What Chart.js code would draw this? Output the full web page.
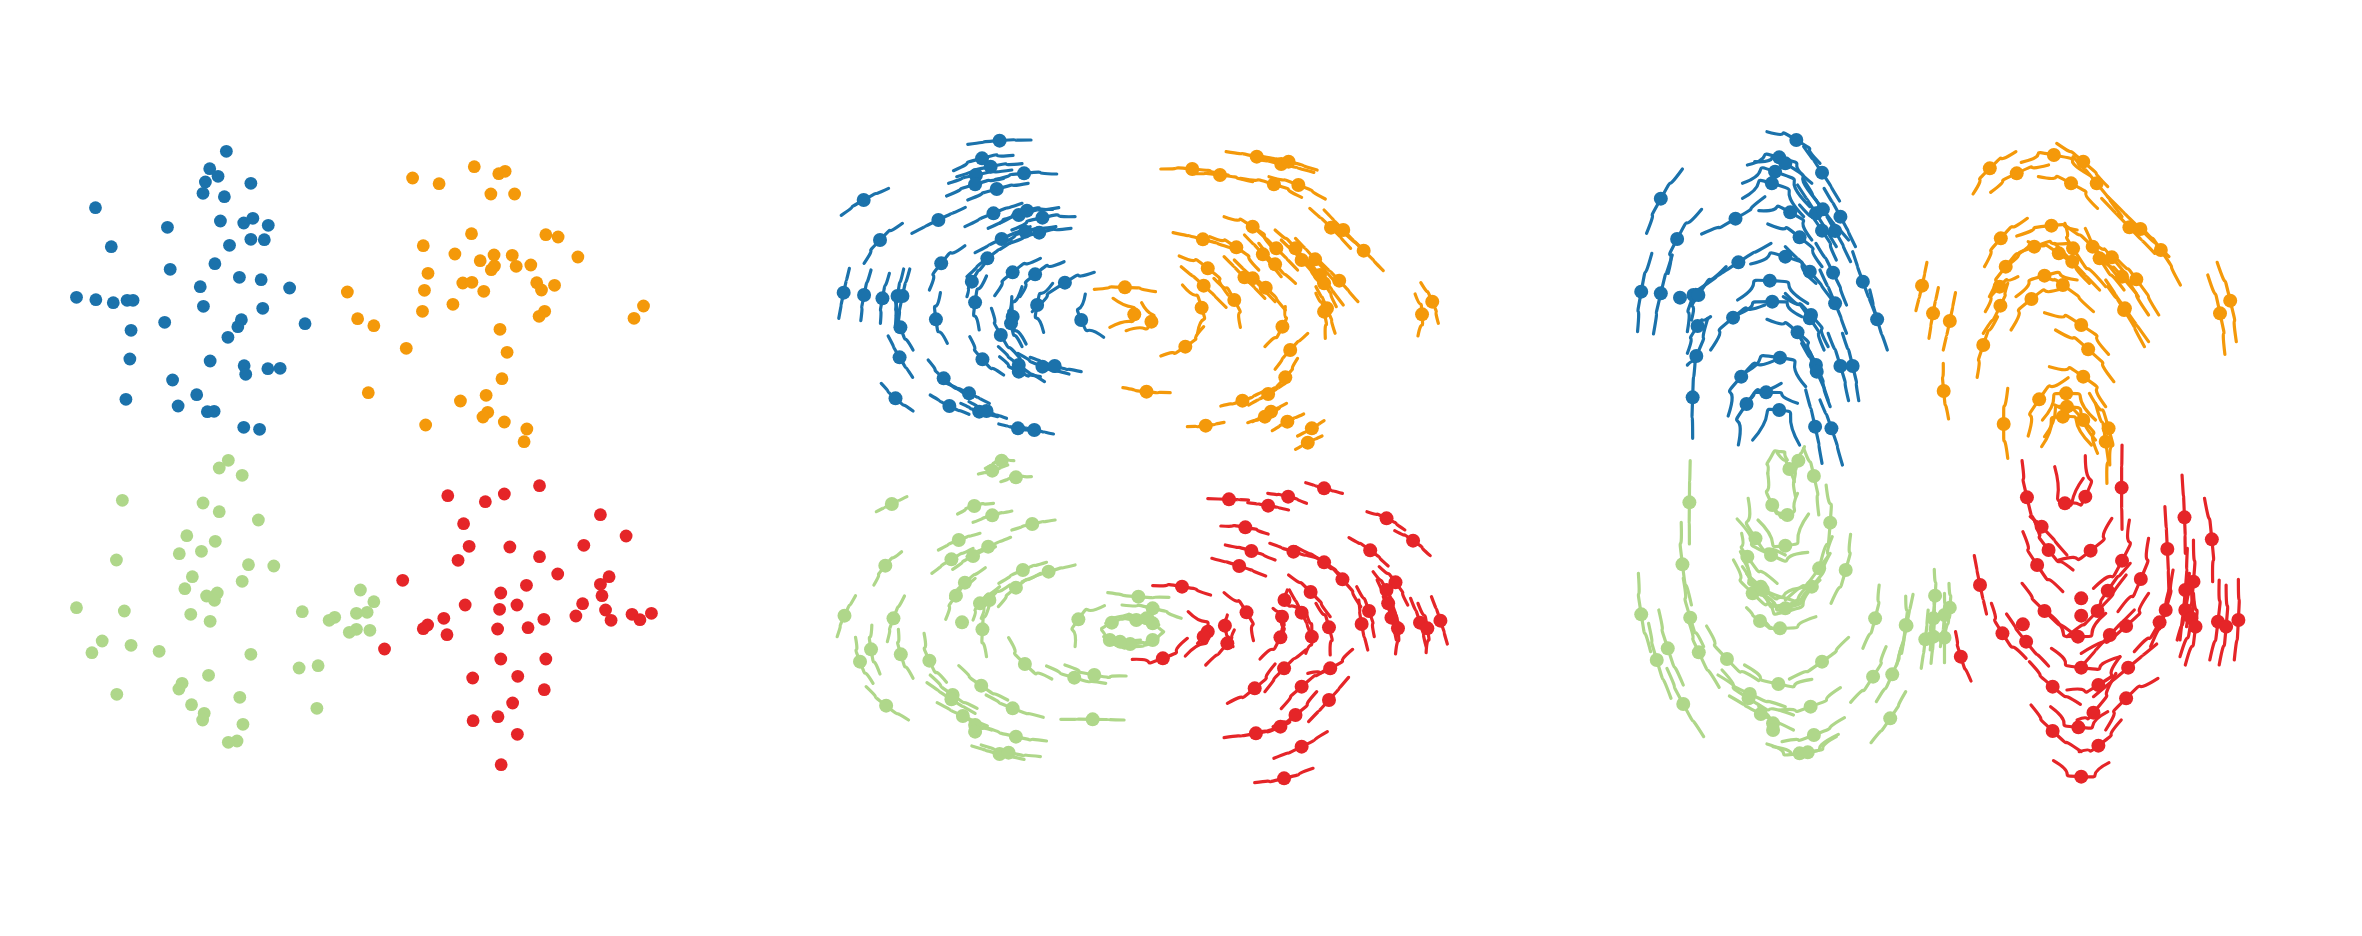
<!DOCTYPE html>
<html><head><meta charset="utf-8">
<script src="https://cdn.jsdelivr.net/npm/chart.js@4"></script>
<style>html,body{margin:0;padding:0;background:#fff;width:2362px;height:936px;overflow:hidden}canvas{position:absolute;top:90px}</style>
</head><body>
<canvas id="a" width="620" height="720" style="left:50px"></canvas>
<canvas id="b" width="640" height="720" style="left:820px"></canvas>
<canvas id="c" width="640" height="720" style="left:1620px"></canvas>
<script>
const colors = {blue:'#1b72ab', orange:'#f4990a', green:'#afd78a', red:'#e52528'};

// Panel 1: positions [x, y]
const p1Blue = [[446,64],[404,116],[425,139],[393,156],[387,190],[441,200],[508,160],[115,233],[297,292],[431,273],[490,279],[513,265],[552,286],[155,350],[454,346],[508,328],[542,329],[304,418],[417,401],[479,442],[534,449],[380,470],[606,474],[67,502],[116,509],[160,518],[195,511],[210,511],[388,529],[538,535],[484,569],[475,590],[290,577],[645,581],[205,601],[450,622],[202,687],[405,693],[491,707],[495,733],[551,716],[582,715],[310,750],[371,794],[192,808],[324,828],[398,845],[415,844],[490,892],[530,898]];
const p1Orange = [[917,144],[984,161],[1073,110],[1135,131],[1151,124],[1115,192],[1175,192],[1066,311],[1254,314],[1285,321],[944,347],[1024,372],[1088,392],[1123,375],[1169,376],[1335,381],[1124,408],[1116,419],[1179,409],[1216,405],[956,430],[1044,459],[1067,457],[1231,458],[1276,466],[1243,480],[947,481],[1097,484],[752,486],[1019,523],[942,544],[1251,544],[1237,559],[1501,528],[1477,565],[778,566],[819,587],[1138,598],[901,655],[1156,667],[1143,746],[805,788],[1103,796],[1038,813],[1107,847],[1095,861],[1149,876],[950,885],[1206,897],[1199,935]];
const p1Green = [[451,61],[428,84],[486,106],[183,181],[387,189],[428,215],[527,240],[346,287],[418,304],[383,334],[327,341],[168,360],[502,374],[566,378],[360,410],[486,424],[341,446],[785,450],[423,459],[396,468],[416,481],[819,485],[67,503],[188,513],[638,515],[356,523],[775,520],[802,517],[405,544],[720,532],[706,541],[775,568],[757,577],[809,571],[132,603],[205,616],[106,638],[276,634],[508,643],[630,684],[678,677],[401,706],[334,730],[326,747],[169,763],[480,772],[358,794],[390,820],[386,840],[675,805],[488,853],[473,903],[451,907]];
const p1Red = [[1238,137],[1149,162],[1006,167],[1101,185],[1392,224],[1046,251],[1457,288],[1350,316],[1060,319],[1163,321],[1238,350],[1032,361],[1284,402],[1414,410],[892,421],[1392,433],[1205,436],[1140,459],[1396,467],[1050,495],[1181,495],[1347,491],[1137,508],[1405,510],[1330,528],[1472,523],[1521,520],[1492,539],[1419,541],[996,535],[955,555],[944,566],[1249,538],[1132,567],[1209,563],[1004,584],[846,627],[1140,657],[1254,657],[1069,714],[1183,709],[1250,749],[1170,789],[1133,830],[1070,842],[1182,883],[1141,974]];

// Panel 2: trails [startX, startY, pointX, pointY, endX, endY]
const p2Blue = [[362,73,440,62,517,60],[327,152,397,115,473,106],[335,170,418,140,495,131],[315,190,382,165,470,150],[310,228,380,193,450,175],[362,240,433,207,510,190],[430,178,500,160,580,162],[52,286,107,240,168,205],[225,340,290,300,356,262],[355,320,425,280,495,250],[412,325,487,285,585,263],[440,310,507,272,570,268],[470,330,545,293,625,290],[108,430,147,360,202,310],[380,398,445,357,515,320],[455,365,503,335,578,320],[465,370,537,338,615,325],[268,510,297,430,355,377],[360,470,410,415,470,365],[428,527,472,457,540,415],[490,530,527,463,598,425],[360,530,372,485,410,420],[520,575,600,488,672,457],[46,595,58,518,72,445],[100,602,108,525,125,450],[148,610,153,535,170,460],[185,615,190,528,205,447],[190,620,202,528,220,447],[390,630,380,547,408,468],[548,637,532,555,570,490],[312,670,284,598,295,518],[228,690,197,622,185,545],[505,672,472,590,495,500],[495,680,468,610,470,530],[490,715,443,645,420,565],[695,652,640,600,650,522],[227,772,195,712,167,648],[450,765,398,718,367,650],[365,830,303,775,265,720],[550,785,487,735,437,680],[540,770,487,755,440,710],[610,762,545,740,485,700],[640,755,575,738,515,712],[415,850,365,820,310,790],[228,873,185,835,150,790],[365,883,317,858,270,825],[435,890,390,875,345,850],[457,895,408,873,365,845],[535,935,485,925,438,912],[572,942,525,930,478,917]];
const p2Orange = [[995,95,1070,110,1145,135],[1060,115,1130,132,1210,157],[1085,110,1148,125,1218,150],[835,147,912,147,1000,165],[905,160,980,165,1060,185],[1030,175,1112,193,1180,232],[1100,170,1172,195,1238,237],[990,290,1060,320,1110,385],[1200,265,1252,323,1300,385],[1235,270,1282,330,1335,395],[1290,345,1332,392,1380,452],[865,338,938,358,1010,385],[955,350,1020,382,1075,450],[1040,345,1085,403,1130,470],[1070,330,1118,385,1170,450],[1115,330,1165,385,1210,460],[1075,370,1115,433,1165,490],[1130,360,1180,420,1225,490],[1165,355,1213,418,1265,490],[880,408,950,445,1000,525],[990,410,1040,472,1090,535],[1015,420,1060,475,1115,545],[1185,410,1225,465,1282,555],[1225,425,1272,482,1318,545],[1195,430,1235,490,1265,560],[885,440,940,497,995,562],[1040,455,1092,503,1140,570],[965,475,1015,540,1030,622],[888,495,935,563,925,640],[1215,500,1242,565,1262,640],[1215,520,1235,575,1238,655],[1472,488,1500,545,1515,610],[1458,522,1475,583,1465,648],[718,535,770,583,710,622],[788,548,812,605,750,632],[1140,560,1133,620,1090,680],[940,620,895,680,835,708],[1195,640,1152,690,1115,748],[1170,715,1140,772,1085,830],[742,803,800,815,858,818],[1140,790,1098,822,1050,855],[1085,815,1035,842,982,858],[1143,850,1105,875,1060,905],[1125,865,1090,890,1048,908],[1185,882,1145,905,1108,932],[990,907,945,917,900,920],[1235,902,1205,925,1170,948],[1230,948,1195,968,1165,988],[822,515,747,502,672,508]];
const p2Green = [[405,85,445,62,475,62],[388,102,422,92,460,75],[443,125,480,112,518,110],[138,215,176,192,213,170],[337,222,378,198,425,190],[375,247,422,226,470,213],[470,270,520,252,576,240],[290,330,340,300,392,280],[360,350,412,320,467,292],[325,388,375,348,430,320],[274,400,322,358,375,325],[132,435,160,377,200,335],[438,430,497,390,555,367],[495,425,560,395,625,375],[320,475,355,428,405,383],[437,500,480,443,540,400],[308,538,333,467,380,415],[375,540,392,490,440,440],[395,535,415,480,465,435],[705,458,780,470,855,472],[740,495,815,505,885,535],[625,620,633,538,697,497],[42,590,60,527,87,467],[165,605,180,535,207,468],[348,547,348,547,348,547],[408,650,398,568,415,495],[147,702,125,628,127,555],[228,715,198,643,192,568],[130,730,98,665,87,592],[310,727,268,662,255,580],[568,717,502,672,462,593],[700,730,623,713,555,678],[750,708,672,705,600,675],[460,780,395,737,340,677],[385,805,325,765,270,705],[380,820,322,778,262,728],[217,840,162,797,113,740],[547,832,472,805,407,765],[410,858,350,828,287,788],[745,840,668,838,590,838],[420,870,380,855,362,835],[385,885,380,875,372,860],[555,903,480,890,400,860],[500,958,440,942,372,918],[540,950,462,938,395,915],[690,565,715,548,760,530],[745,535,775,540,815,530],[790,530,815,550,842,575],[840,578,815,600,770,610],[790,608,760,612,720,610],[730,615,710,600,690,570],[760,525,800,535,830,555],[700,590,735,605,785,600],[695,590,725,615,770,620,815,610],[700,550,735,530,780,530,825,550]];
const p2Red = [[1190,128,1235,145,1280,160],[1097,160,1147,170,1192,190],[950,176,1002,178,1050,180],[1048,188,1098,197,1148,210],[1340,215,1388,235,1433,270],[982,258,1042,262,1098,282],[1408,272,1453,302,1495,347],[1296,293,1348,331,1392,378],[993,315,1057,333,1115,360],[1102,310,1160,335,1220,355],[1165,320,1235,367,1290,420],[960,355,1027,378,1092,408],[1225,360,1280,418,1325,500],[1370,380,1410,427,1440,495],[815,437,887,440,957,465],[1355,395,1388,450,1410,520],[1148,405,1202,456,1250,530],[1145,450,1138,480,1180,510],[1365,420,1392,490,1420,555],[990,458,1045,517,1062,602],[1150,450,1180,518,1205,590],[1315,440,1345,513,1358,590],[1110,505,1132,530,1130,590],[1380,470,1400,533,1412,600],[1320,480,1327,552,1342,630],[1447,475,1470,548,1485,620],[1498,470,1520,542,1537,612],[1465,490,1488,565,1485,638],[1400,500,1416,565,1410,642],[998,525,992,557,1012,620],[902,515,950,575,895,648],[955,560,940,590,925,610],[1215,490,1247,562,1250,645],[1130,530,1128,592,1078,657],[1190,510,1205,590,1190,640],[1015,570,998,610,945,675],[900,595,840,655,765,658],[1190,630,1137,685,1090,755],[1305,628,1250,685,1195,700],[1115,672,1065,745,998,790],[1250,680,1180,740,1130,806],[1295,712,1247,780,1197,845],[1217,755,1165,825,1110,860],[1170,820,1128,860,1060,880],[1120,865,1068,880,990,893],[1243,875,1180,920,1112,955],[1208,985,1137,1015,1065,1028]];

// Panel 3: trails [startX, startY, pointX, pointY, endX, endY]
const p3Blue = [[360,35,432,60,490,130],[450,80,495,158,538,243],[312,135,390,112,470,190],[65,340,100,236,153,147],[330,125,405,130,480,240],[300,190,380,155,465,260],[300,235,372,190,450,290],[200,342,283,296,355,230],[340,272,417,277,470,360],[435,195,480,280,530,380],[450,180,497,268,560,360],[500,205,540,290,577,380],[440,255,495,332,530,420],[480,240,527,333,565,425],[118,460,140,357,200,268],[362,312,440,352,495,440],[320,432,405,410,480,490],[185,515,290,427,370,370],[405,380,465,455,520,540],[480,370,522,458,555,555],[570,395,595,485,625,580],[288,540,367,482,460,550],[43,635,52,515,78,400],[82,642,100,520,128,405],[147,533,147,533,147,533],[165,635,180,525,205,500],[175,600,192,525,260,440],[490,450,527,550,555,640],[275,590,373,545,445,590],[222,690,277,593,355,555],[612,510,630,598,655,690],[405,520,465,595,500,690],[400,530,468,585,510,680],[165,700,190,618,222,590],[360,598,435,637,475,720],[165,735,187,708,215,595],[285,770,392,713,455,800],[440,650,480,735,510,840],[445,670,482,755,515,860],[510,640,540,738,560,842],[545,640,570,738,585,842],[265,888,297,770,390,715],[300,850,358,817,435,850],[290,975,310,852,395,790],[325,960,390,870,440,975],[178,955,178,832,185,710],[455,810,478,920,495,1030],[490,840,518,925,545,1035]];
const p3Orange = [[865,222,906,145,970,95],[908,217,972,160,1050,135],[983,127,1063,105,1150,165],[1070,70,1135,125,1195,200],[1025,170,1105,190,1170,265],[1110,110,1168,190,1230,290],[1180,235,1248,322,1310,400],[1195,230,1275,327,1345,410],[1280,325,1325,390,1373,495],[972,348,1057,317,1120,330],[893,440,933,355,998,295],[945,440,1015,380,1100,370],[1090,310,1110,385,1190,500],[1000,365,1075,400,1150,490],[1090,315,1158,380,1220,470],[1065,370,1108,425,1175,510],[1140,325,1175,415,1235,510],[1160,370,1205,412,1270,530],[1220,420,1265,478,1320,585],[905,530,945,440,1010,370],[1180,420,1230,470,1295,585],[970,530,1040,467,1120,480],[1040,470,1085,495,1160,575],[895,575,930,500,975,470],[958,630,1008,537,1085,505],[890,640,932,557,950,490],[1190,480,1237,565,1295,665],[1195,500,1235,570,1285,680],[725,572,740,497,752,427],[757,655,767,580,780,503],[792,690,808,603,822,518],[1463,427,1495,542,1510,665],[1440,465,1470,580,1482,703],[875,772,890,675,925,590],[1040,578,1130,615,1197,703],[1067,630,1147,688,1210,785],[1052,740,1135,770,1190,860],[792,730,793,813,805,897],[1000,948,1027,838,1098,773],[1035,900,1093,820,1165,900],[1033,980,1085,890,1155,975],[1065,855,1135,900,1170,1000],[1150,820,1197,925,1200,1035],[1165,850,1190,965,1193,1090],[950,805,940,912,950,1015],[1040,950,1095,860,1165,960]];
const p3Green = [[415,235,373,195,362,100],[365,200,410,225,435,160],[385,38,415,87,430,170],[452,20,437,62,425,130],[362,100,368,55,395,35,410,60],[450,25,475,108,487,225],[170,312,170,187,172,62],[505,135,515,248,490,375],[338,240,405,317,462,222],[314,175,332,295,405,345],[287,237,370,345,460,337],[298,280,312,350,385,430],[150,247,153,373,175,495],[517,490,553,390,565,283],[405,480,488,385,520,290],[278,360,325,460,405,510],[295,335,345,440,440,490],[300,355,350,450,470,440],[400,510,470,440,515,340],[360,470,405,505,480,430],[310,503,343,543,390,575],[340,535,392,565,480,530],[45,400,52,523,75,635],[155,415,172,533,205,620],[595,625,625,535,635,435],[690,640,702,557,718,463],[678,675,700,555,700,468],[760,570,772,467,770,388],[793,600,808,503,806,430],[760,630,768,535,770,455],[785,620,795,525,795,460],[738,685,748,598,755,510],[762,670,768,590,770,510],[795,668,795,593,795,510],[155,735,117,625,95,510],[243,742,193,637,170,550],[125,775,90,660,70,550],[340,722,262,657,212,558],[415,717,495,665,560,592],[305,675,388,732,470,718],[565,787,620,710,652,620],[628,785,667,703,695,600],[240,705,318,762,405,800],[250,690,315,775,425,825],[205,890,155,792,115,685],[390,810,467,800,540,743],[268,768,345,822,425,870],[340,800,375,850,380,880],[375,870,375,870,375,870],[615,908,662,835,700,755],[397,905,475,885,550,833],[360,912,440,940,535,883],[375,920,460,937,530,890],[300,380,340,450,400,495,470,430],[310,400,350,465,405,515,490,420]];
const p3Red = [[1230,268,1229,143,1230,15],[1085,195,1140,170,1140,47],[1065,80,1090,190,1135,115],[1028,285,997,172,985,62],[1385,340,1383,232,1377,105],[1005,230,1033,260,1095,345],[1452,425,1450,298,1432,175],[1345,455,1341,327,1335,200],[1205,235,1153,332,1075,360],[1015,240,1050,330,1110,390],[1160,445,1230,362,1248,240],[987,275,1022,375,1085,455],[868,347,882,435,898,522],[1388,560,1405,425,1405,300],[1372,600,1385,450,1390,325],[1220,515,1276,417,1295,295],[1165,520,1195,452,1250,370],[1130,475,1130,475,1130,475],[1095,590,1170,513,1240,405],[1130,527,1130,527,1130,527],[985,430,1040,513,1120,590],[1300,620,1337,510,1355,390],[1130,640,1240,558,1295,460],[1260,635,1322,547,1345,450],[1365,600,1385,510,1395,400],[1372,650,1400,535,1400,430],[1385,675,1410,560,1405,460],[1445,660,1465,545,1468,420],[1505,660,1515,540,1515,418],[1468,675,1485,560,1485,435],[1050,520,1122,590,1190,520],[1130,680,1200,585,1260,510],[987,553,987,553,987,553],[910,490,937,580,995,655],[947,522,995,605,1050,678],[822,575,835,650,860,723],[1057,625,1130,683,1225,650],[1160,770,1245,683,1315,612],[1003,665,1060,740,1128,793],[1095,750,1172,735,1225,650],[1120,840,1160,818,1215,700],[1190,870,1240,775,1318,715],[1055,800,1123,862,1195,815],[1007,795,1060,873,1130,935],[1125,935,1172,917,1228,840],[1062,962,1130,1010,1198,968]];

const TOP = 90, BOTTOM = 810, LOWER_TOP = 440;
function pts(arr){ const o=[]; for(let i=0;i<arr.length;i+=2) o.push({x:arr[i],y:arr[i+1]}); return o; }

function panel(id, leftW, upperTop, groups){
  const ds = [];
  groups.forEach(g=>{
    const yAxisID = g.lower ? 'y2' : 'y';
    const dots = g.dots ? g.dots.map(d=>({x:d[0],y:d[1]})) : g.trails.filter(t=>t.length===6).map(t=>({x:t[2],y:t[3]}));
    ds.push({data:dots,yAxisID,showLine:false,pointRadius:g.radius,pointHoverRadius:g.radius,
      pointBackgroundColor:g.color,pointBorderWidth:0,clip:false,order:1});
    (g.trails||[]).forEach(t=>{
      ds.push({data:pts(t),yAxisID,showLine:true,pointRadius:0,borderColor:g.color,borderWidth:3.2,
        tension:1,borderCapStyle:'round',clip:false,order:2});
    });
  });
  new Chart(document.getElementById(id),{
    type:'scatter',
    data:{datasets:ds},
    options:{responsive:false,animation:false,devicePixelRatio:1,
      layout:{padding:0,autoPadding:false},
      events:[],
      plugins:{legend:{display:false},tooltip:{enabled:false},title:{display:false}},
      scales:{
        x:{type:'linear',display:false,min:0,max:leftW},
        y:{type:'linear',display:false,reverse:true,min:(TOP-upperTop)*3,max:(BOTTOM-upperTop)*3},
        y2:{type:'linear',display:false,reverse:true,min:(TOP-LOWER_TOP)*3,max:(BOTTOM-LOWER_TOP)*3}
      }}
  });
}
panel('a',1568,130,[
  {dots:p1Blue,color:colors.blue,radius:6.4},
  {dots:p1Orange,color:colors.orange,radius:6.4},
  {dots:p1Green,color:colors.green,radius:6.4,lower:true},
  {dots:p1Red,color:colors.red,radius:6.4,lower:true}]);
panel('b',1568,120,[
  {trails:p2Blue,color:colors.blue,radius:7},
  {trails:p2Orange,color:colors.orange,radius:7},
  {trails:p2Green,color:colors.green,radius:7,lower:true},
  {trails:p2Red,color:colors.red,radius:7,lower:true}]);
panel('c',1568,120,[
  {trails:p3Blue,color:colors.blue,radius:7},
  {trails:p3Orange,color:colors.orange,radius:7},
  {trails:p3Green,color:colors.green,radius:7,lower:true},
  {trails:p3Red,color:colors.red,radius:7,lower:true}]);
</script>
</body></html>
